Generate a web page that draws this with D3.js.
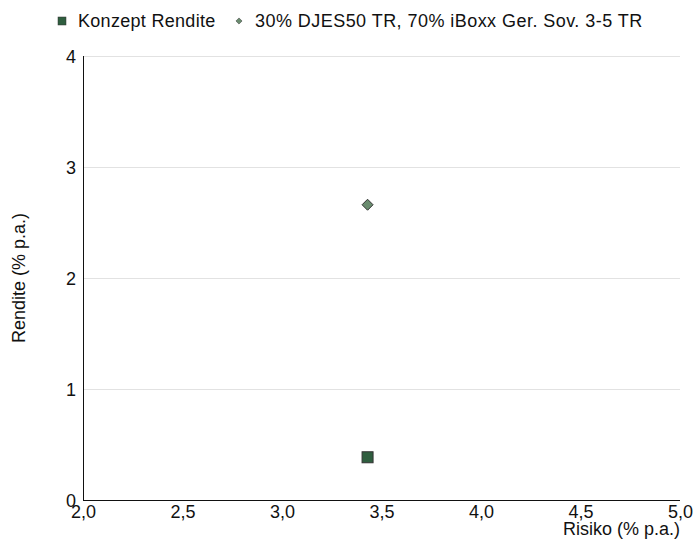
<!DOCTYPE html>
<html>
<head>
<meta charset="utf-8">
<script src="https://d3js.org/d3.v7.min.js"></script>
<style>
  body { margin: 0; background: #fff; }
  text { font-family: "Liberation Sans", Arial, sans-serif; fill: #111; }
</style>
</head>
<body>
<div id="chart"></div>
<script>
// series and tick values
var seriesNames = ["Konzept Rendite", "30% DJES50 TR, 70% iBoxx Ger. Sov. 3-5 TR"];
var riskValues = [3.43, 3.43];
var returnValues = [0.385, 2.66];
var xTicks = [2.0, 2.5, 3.0, 3.5, 4.0, 4.5, 5.0];
var yTicks = [0, 1, 2, 3, 4];

var width = 696, height = 540;
var margin = {top: 56, right: 16, bottom: 40, left: 83};

var svg = d3.select("#chart").append("svg")
    .attr("width", width)
    .attr("height", height);

var x = d3.scaleLinear().domain([2, 5]).range([margin.left, width - margin.right]);
var y = d3.scaleLinear().domain([0, 4]).range([height - margin.bottom, margin.top]);

// horizontal grid lines
svg.append("g").selectAll("line")
    .data(yTicks.filter(function(d) { return d > 0; }))
  .enter().append("line")
    .attr("x1", x(2)).attr("x2", x(5))
    .attr("y1", function(d) { return y(d) + 0.5; })
    .attr("y2", function(d) { return y(d) + 0.5; })
    .attr("stroke", "#e2e2e2")
    .attr("stroke-width", 1);

// y axis
var yAxis = svg.append("g")
    .attr("transform", "translate(" + x(2) + ",0)")
    .call(d3.axisLeft(y).tickValues(yTicks).tickSize(0).tickPadding(7).tickFormat(d3.format("d")));
yAxis.select(".domain").attr("stroke", "#111").attr("d", "M0.5," + y(4) + "V" + y(0));
yAxis.selectAll("text").style("font-size", "18px").attr("dy", "0.36em");

// x axis
var fmt = function(d) { return d3.format(".1f")(d).replace(".", ","); };
var xAxis = svg.append("g")
    .attr("transform", "translate(0," + y(0) + ")")
    .call(d3.axisBottom(x).tickValues(xTicks).tickSize(0).tickPadding(5).tickFormat(fmt));
xAxis.select(".domain").attr("stroke", "#111").attr("d", "M" + x(2) + ",0.5H" + x(5));
xAxis.selectAll("text").style("font-size", "18px");

// axis titles
svg.append("text")
    .attr("x", x(5)).attr("y", 535)
    .attr("text-anchor", "end")
    .style("font-size", "18px")
    .text("Risiko (% p.a.)");

svg.append("text")
    .attr("transform", "translate(25," + y(2) + ") rotate(-90)")
    .attr("text-anchor", "middle")
    .style("font-size", "18px")
    .text("Rendite (% p.a.)");

// points
svg.append("rect")
    .attr("x", x(riskValues[0]) - 5.5)
    .attr("y", y(returnValues[0]) - 5.5)
    .attr("width", 11).attr("height", 11)
    .attr("fill", "#2f5e3f")
    .attr("stroke", "#333")
    .attr("stroke-width", 1);

svg.append("path")
    .attr("transform", "translate(" + x(riskValues[1]) + "," + y(returnValues[1]) + ")")
    .attr("d", d3.symbol().type(d3.symbolDiamond2).size(77))
    .attr("fill", "#6a8c6f")
    .attr("stroke", "#333")
    .attr("stroke-width", 1);

// legend
var legend = svg.append("g");
legend.append("rect")
    .attr("x", 58).attr("y", 17).attr("width", 8).attr("height", 8)
    .attr("fill", "#2f5e3f").attr("stroke", "#333").attr("stroke-width", 0.5);
legend.append("text")
    .attr("x", 78).attr("y", 27)
    .style("font-size", "18px")
    .style("letter-spacing", "0.3px")
    .text(seriesNames[0]);
legend.append("path")
    .attr("transform", "translate(239,21)")
    .attr("d", d3.symbol().type(d3.symbolDiamond2).size(24))
    .attr("fill", "#6a8c6f").attr("stroke", "#333").attr("stroke-width", 0.5);
legend.append("text")
    .attr("x", 255).attr("y", 27)
    .style("font-size", "18px")
    .style("letter-spacing", "0.45px")
    .text(seriesNames[1]);
</script>
</body>
</html>
